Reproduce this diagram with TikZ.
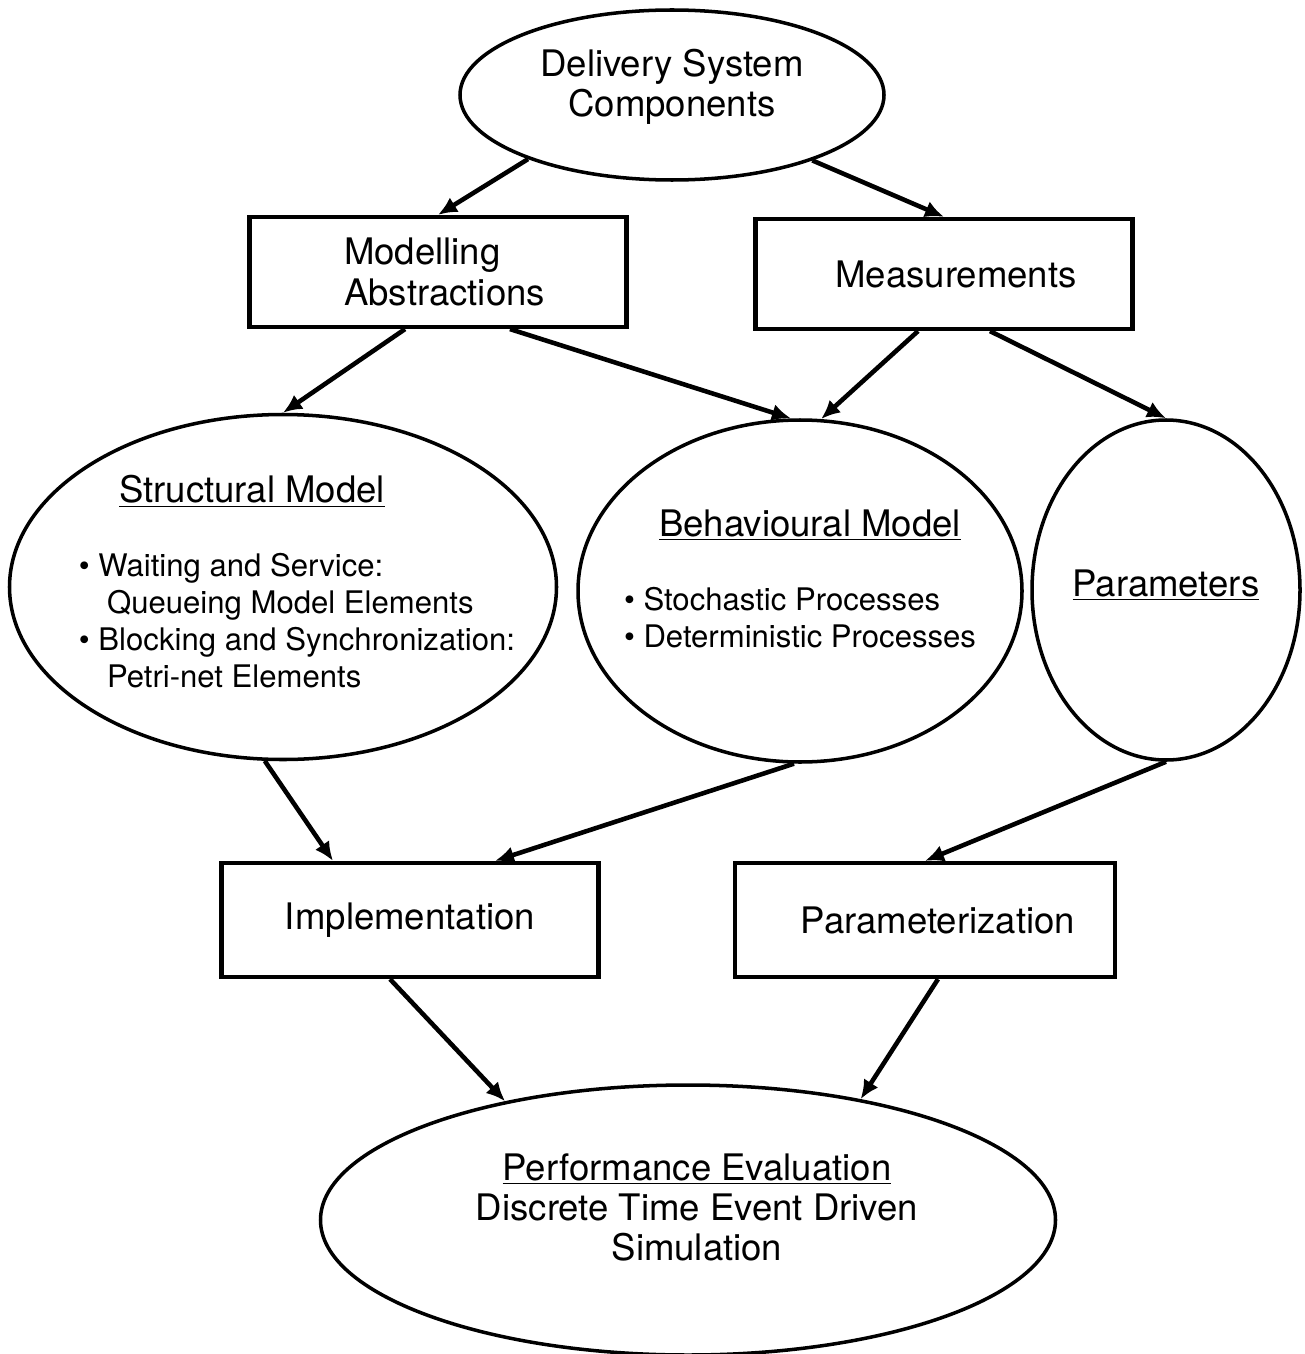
\documentclass[tikz,border=0pt]{standalone}
\usepackage{fontspec}
\setmainfont{TeX Gyre Heros}
\usetikzlibrary{shapes.geometric,arrows.meta}
\newcommand\smalltext{\fontsize{17.7}{21}\selectfont}
\begin{document}
\begin{tikzpicture}[
oval/.style={ellipse,draw,line width=2pt,inner sep=-2cm,align=center,font=\fontsize{20.8}{23}\selectfont},
rbox/.style={rectangle,draw,line width=2.4pt,minimum width=7.54cm,minimum height=2.2cm,align=center,font=\fontsize{20.8}{23}\selectfont},
arr/.style={line width=2.6pt,-{Latex[length=0.38cm,width=0.34cm]}}]
\useasboundingbox(0,0)rectangle(26.08,-27.08);
\node[oval,minimum width=8.48cm,minimum height=3.4cm](top)at(13.44,-1.9){Delivery System\\Components\\[-0.33cm]};
\node[rbox,align=left](mod)at(8.76,-5.44){\hspace*{0.26cm}Modelling\\\hspace*{0.26cm}Abstractions};
\node[rbox](meas)at(18.88,-5.48){\hspace*{0.48cm}Measurements};
\node[oval,minimum width=10.94cm,minimum height=6.9cm](struct)at(5.66,-11.74){\underline{Structural Model}\hspace*{1.24cm}\\[0.67cm]
\hspace*{0.56cm}{\smalltext\begin{tabular}[t]{@{}l@{}}\textbullet\ Waiting and Service:\\\hphantom{\textbullet}\ \ Queueing Model Elements\\
\textbullet\ Blocking and Synchronization:\\\hphantom{\textbullet}\ \ Petri-net Elements\end{tabular}}};
\node[oval,minimum width=8.88cm,minimum height=6.84cm](behav)at(16,-11.82){\hspace*{0.4cm}\underline{Behavioural Model}\\[0.67cm]
{\smalltext\begin{tabular}[t]{@{}l@{}}\textbullet\ Stochastic Processes\\\textbullet\ Deterministic Processes\end{tabular}}\hspace*{0.24cm}\\[0.23cm]};
\node[oval,minimum width=5.36cm,minimum height=6.8cm](param)at(23.32,-11.8){\underline{Parameters}\\[-0.53cm]};
\node[rbox,minimum height=2.28cm](impl)at(8.2,-18.4){Implementation};
\node[rbox,minimum width=7.6cm,minimum height=2.28cm](paramz)at(18.5,-18.4){\hspace*{0.52cm}Parameterization};
\node[oval,minimum width=14.7cm,minimum height=5.4cm](perf)at(13.76,-24.4){\hspace*{0.36cm}\underline{Performance Evaluation}\\
\hspace*{0.36cm}Discrete Time Event Driven\\\hspace*{0.36cm}Simulation\\[-0.29cm]};
\draw[arr](top.204)--(mod.north);
\draw[arr](top.335)--(meas.north);
\draw[arr]([xshift=-0.66cm]mod.south)--(struct.north);
\draw[arr]([xshift=1.44cm]mod.south)--(behav.93);
\draw[arr]([xshift=-0.52cm]meas.south)--(behav.83);
\draw[arr]([xshift=0.92cm]meas.south)--(param.north);
\draw[arr](struct.264)--([xshift=-1.54cm]impl.north);
\draw[arr](behav.268)--([xshift=1.7cm]impl.north);
\draw[arr](param.south)--(paramz.north);
\draw[arr]([xshift=-0.4cm]impl.south)--(perf.147);
\draw[arr]([xshift=0.26cm]paramz.south)--(perf.35);
\end{tikzpicture}
\end{document}
